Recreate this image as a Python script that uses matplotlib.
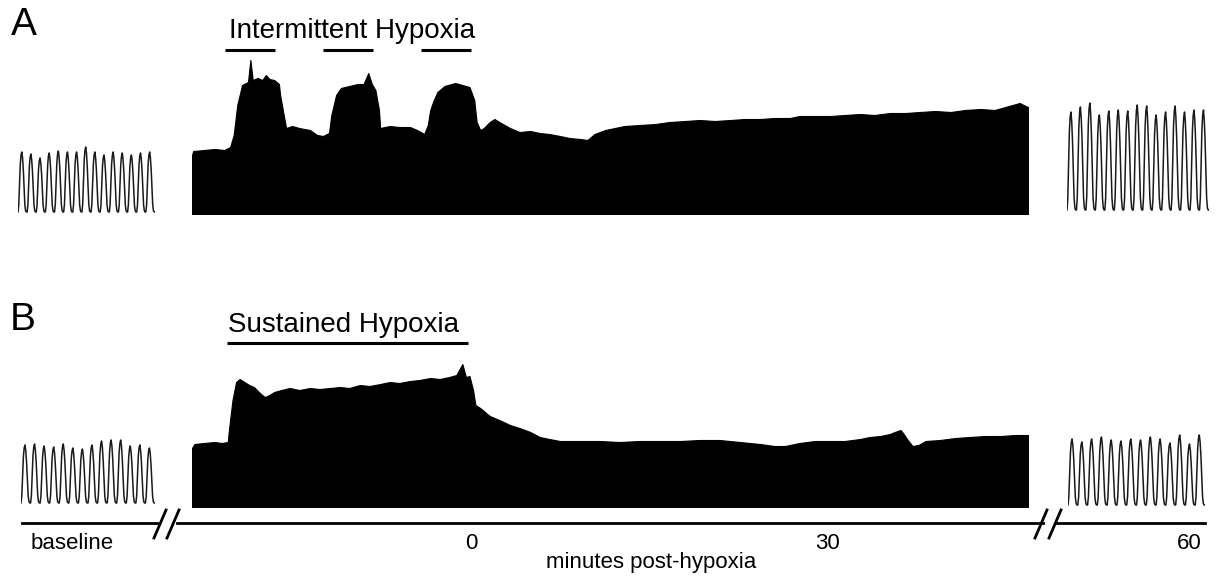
import numpy as np
import matplotlib.pyplot as plt
from matplotlib.lines import Line2D

plt.rcParams['font.family'] = ['Liberation Sans', 'DejaVu Sans']

W, H = 1217, 578

# one respiratory burst, normalised
burst_shape = [0.0, 0.12, 0.48, 0.8, 0.95, 1.0, 0.9, 0.7, 0.4, 0.12, 0.02, 0.0]

# peak amplitudes of the fast traces (a.u.)
a_base_peaks = [60, 58, 54, 59, 61, 60, 60, 65, 60, 57, 60, 59, 57, 59, 60]
a_post_peaks = [98, 103, 107, 95, 99, 100, 99, 105, 104, 95, 98, 104, 98, 100, 100]
b_base_peaks = [58, 59, 57, 56, 59, 55, 54, 58, 62, 63, 63, 57, 58, 55]
b_post_peaks = [66, 63, 66, 68, 65, 64, 66, 65, 68, 66, 62, 70, 61, 70]

# compressed trace envelopes, minutes relative to end of hypoxia
ih_time = [-23.4, -23.3, -22.4, -21.5, -20.7, -20.2, -19.9, -19.6, -19.2, -18.7,
           -18.5, -18.3, -17.9, -17.5, -17.2, -16.9, -16.5, -16.1, -16.0, -15.7,
           -15.5, -15.0, -14.4, -13.5, -12.9, -12.4, -11.9, -11.7, -11.3, -10.9,
           -10.2, -9.5, -9.0, -8.6, -8.3, -8.0, -7.7, -7.6, -6.8, -6.0,
           -5.1, -4.5, -3.9, -3.6, -3.4, -3.1, -2.8, -2.2, -1.3, -0.7,
           -0.1, 0.3, 0.5, 0.8, 1.1, 1.6, 2.0, 2.4, 3.3, 4.1,
           5.0, 5.8, 6.6, 7.5, 8.3, 9.2, 9.8, 10.4, 11.3, 12.1,
           12.9, 14.2, 15.5, 16.7, 18.0, 19.2, 20.5, 21.8, 23.0, 24.3,
           25.5, 26.8, 27.6, 28.9, 30.2, 31.4, 32.7, 33.9, 35.2, 36.5,
           37.7, 39.0, 40.3, 41.5, 42.8, 44.0, 44.9, 45.5, 46.1, 46.6,
           46.8]
ih_amp = [59, 63, 64, 65, 64, 67, 79, 109, 129, 132,
          154, 134, 136, 134, 139, 135, 134, 130, 119, 99,
          86, 88, 86, 84, 79, 78, 81, 99, 119, 126,
          128, 130, 130, 141, 130, 124, 104, 86, 88, 87,
          87, 84, 80, 89, 104, 114, 122, 128, 131, 129,
          127, 114, 92, 84, 86, 92, 95, 92, 86, 82,
          83, 81, 80, 78, 76, 75, 74, 80, 84, 86,
          88, 89, 90, 92, 93, 94, 93, 94, 95, 95,
          96, 96, 98, 98, 98, 99, 100, 99, 101, 101,
          102, 103, 102, 104, 105, 104, 107, 109, 111, 108,
          107]

sh_time = [-23.4, -23.2, -22.4, -21.5, -20.9, -20.4, -20.3, -20.0, -19.7, -19.4,
           -19.0, -18.6, -18.2, -17.7, -17.3, -16.9, -16.5, -15.9, -15.2, -14.4,
           -13.5, -12.7, -11.8, -11.0, -10.2, -9.3, -8.5, -7.6, -6.8, -6.0,
           -5.1, -4.3, -3.4, -2.6, -1.8, -1.2, -0.7, -0.4, -0.1, 0.2,
           0.4, 0.8, 1.2, 1.6, 2.4, 3.3, 4.1, 5.0, 5.8, 6.6,
           7.5, 9.2, 10.8, 12.5, 14.2, 15.9, 17.6, 19.2, 20.9, 22.6,
           24.3, 25.5, 26.4, 27.6, 28.9, 30.2, 31.4, 32.7, 33.5, 34.4,
           35.2, 35.6, 36.1, 36.3, 36.7, 37.1, 37.6, 38.2, 39.4, 40.7,
           41.9, 43.2, 44.5, 45.7, 46.8]
sh_amp = [59, 63, 64, 65, 64, 65, 77, 107, 125, 128,
          125, 122, 120, 114, 110, 112, 115, 117, 119, 117,
          119, 118, 119, 120, 119, 122, 121, 123, 125, 124,
          126, 127, 129, 128, 130, 132, 143, 130, 131, 117,
          102, 99, 95, 91, 87, 82, 79, 75, 70, 68,
          66, 66, 66, 65, 66, 66, 66, 67, 67, 65,
          63, 61, 61, 64, 66, 66, 66, 68, 70, 71,
          73, 75, 77, 74, 67, 61, 62, 66, 67, 69,
          70, 71, 71, 72, 72]

ih_episodes = [(-20.6, -16.4), (-12.4, -8.2), (-4.2, 0.0)]
sh_episode = (-20.5, -0.2)

time_ticks = [0, 30]
post_tick = [60]


def px_axes(fig, x0, x1, y_base, y_top):
    ax = fig.add_axes([x0 / W, (H - y_base) / H, (x1 - x0) / W, (y_base - y_top) / H])
    ax.set_axis_off()
    return ax


def fast_trace(ax, peaks):
    shape = np.array(burst_shape)
    y = np.concatenate([p * shape for p in peaks] + [[0.0]])
    x = np.arange(len(y)) / len(shape)
    ax.plot(x, y, color='#1a1a1a', lw=1.1)
    ax.set_xlim(0, len(peaks))
    ax.set_ylim(-2, 198)


fig = plt.figure(figsize=(W / 100, H / 100), dpi=100)

# panel A
fast_trace(px_axes(fig, 18, 155, 214, 14), a_base_peaks)
fast_trace(px_axes(fig, 1067, 1209, 212, 12), a_post_peaks)
axA = px_axes(fig, 192, 1028, 214, 14)
axA.fill_between(ih_time, 0, ih_amp, color='black', lw=0.8)
axA.set_xlim(-23.4, 46.8)
axA.set_ylim(0, 200)
for t0, t1 in ih_episodes:
    axA.plot([t0, t1], [164, 164], color='black', lw=2.2, solid_capstyle='butt', clip_on=False)
axA.text(-10.0, 183, 'Intermittent Hypoxia', ha='center', va='center', fontsize=20)

# panel B
fast_trace(px_axes(fig, 21, 155, 505, 305), b_base_peaks)
fast_trace(px_axes(fig, 1068, 1205, 507, 307), b_post_peaks)
axB = px_axes(fig, 192, 1028, 507, 307)
axB.fill_between(sh_time, 0, sh_amp, color='black', lw=0.8)
axB.set_xlim(-23.4, 46.8)
axB.set_ylim(0, 200)
axB.plot(list(sh_episode), [164, 164], color='black', lw=2.2, solid_capstyle='butt', clip_on=False)
axB.text(-10.7, 182, 'Sustained Hypoxia', ha='center', va='center', fontsize=20)

fig.text(24 / W, 1 - 25 / H, 'A', ha='center', va='center', fontsize=28)
fig.text(23 / W, 1 - 320 / H, 'B', ha='center', va='center', fontsize=28)


# time axis, broken in two places
def time_axis(x0, x1, xlim, ticks, labels):
    ax = fig.add_axes([x0 / W, (H - 523) / H, (x1 - x0) / W, 10 / H])
    ax.patch.set_visible(False)
    for s in ['top', 'left', 'right']:
        ax.spines[s].set_visible(False)
    ax.spines['bottom'].set_linewidth(2.0)
    ax.set_yticks([])
    ax.set_xlim(*xlim)
    ax.set_xticks(ticks)
    ax.set_xticklabels(labels, fontsize=16)
    ax.tick_params(axis='x', length=0, pad=7)
    return ax


time_axis(22, 157, (0, 1), [0.37], ['baseline'])
axT = time_axis(177, 1043, (-24.7, 48.1), time_ticks, [str(t) for t in time_ticks])
time_axis(1057, 1205, (48.9, 61.3), post_tick, [str(t) for t in post_tick])
axT.set_xlabel('minutes post-hypoxia', fontsize=16)
axT.xaxis.set_label_coords(0.548, -2.9)

for x0 in [154, 167, 1035, 1049]:
    fig.add_artist(Line2D([x0 / W, (x0 + 12) / W], [1 - 538 / H, 1 - 510 / H],
                          color='black', lw=2.0))

fig.savefig('out.png', dpi=100)
